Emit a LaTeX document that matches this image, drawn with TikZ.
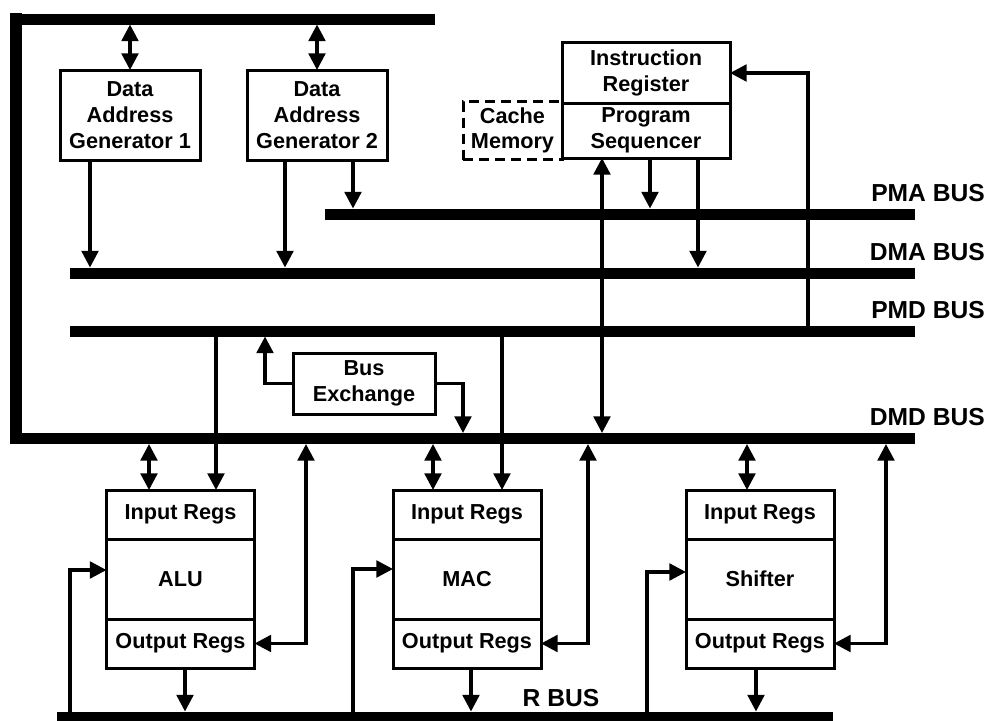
\documentclass[tikz,border=0pt]{standalone}
\usepackage{fontspec}
\setmainfont{Liberation Sans}
\usetikzlibrary{arrows.meta,positioning}

\begin{document}
\begin{tikzpicture}[
  x=0.3mm,y=-0.3mm,
  every node/.style={font=\fontsize{18.5}{22}\selectfont\bfseries,align=center},
  box/.style={draw,line width=0.9mm,inner sep=0pt,outer sep=0pt},
  reg/.style={box,minimum width=44.4mm,minimum height=14.7mm},
  bus/.style={fill=black,inner sep=0pt,outer sep=0pt,minimum height=3.3mm},
  lbl/.style={inner sep=0pt,font=\fontsize{21}{25}\selectfont\bfseries},
  arr/.style={-{Triangle[length=5mm,width=5mm]},line width=1mm},
  dbl/.style={{Triangle[length=5mm,width=5mm]}-{Triangle[length=5mm,width=5mm]},line width=1mm}
]
\useasboundingbox (0,0) rectangle (999,721);
% buses
\node[bus,minimum width=127.5mm] (dmdtop) at (222.5,19) {};
\node[bus,minimum width=3.6mm,minimum height=129.3mm] (dmdleft) at (16,228.5) {};
\node[bus,minimum width=271.5mm] (dmd) at (462.5,438.5) {};
\node[bus,minimum width=177mm] (pma) at (620,214) {};
\node[bus,minimum width=253.5mm] (dma) at (492.5,273) {};
\node[bus,minimum width=253.5mm] (pmd) at (492.5,331) {};
\node[bus,minimum width=232.8mm] (rbus) at (445,717) {};
\node[lbl,anchor=east] (lpma) at (985,193) {PMA BUS};
\node[lbl,anchor=east] (ldma) at (985,252) {DMA BUS};
\node[lbl,anchor=east] (lpmd) at (985,310) {PMD BUS};
\node[lbl,anchor=east] (ldmd) at (985,417) {DMD BUS};
\node[lbl] (lrbus) at (561,698) {R BUS};
% address generators and sequencer
\node[box,minimum width=42mm,minimum height=27mm] (dag1) at (130,115) {Data\\Address\\Generator 1};
\node[box,minimum width=42mm,minimum height=27mm] (dag2) at (317,115) {Data\\Address\\Generator 2};
\node[box,minimum width=50.4mm,minimum height=16.5mm] (ps) at (646,130.5) {Program\\Sequencer};
\node[box,minimum width=50.4mm,minimum height=18mm,above=0pt of ps] (ir) {Instruction\\Register};
\node[box,dash pattern=on 3mm off 1.8mm,minimum width=29.7mm,minimum height=17.4mm,left=0pt of ps] (cache) {Cache\\Memory};
\node[box,minimum width=42.6mm,minimum height=18.3mm] (bx) at (364,383.5) {Bus\\Exchange};
% computation units
\node[reg,minimum height=24mm] (alu) at (180.5,579) {ALU};
\node[reg,above=0pt of alu] (aluin) {Input Regs};
\node[reg,below=0pt of alu] (aluout) {Output Regs};
\node[reg,minimum height=24mm] (mac) at (467,579) {MAC};
\node[reg,above=0pt of mac] (macin) {Input Regs};
\node[reg,below=0pt of mac] (macout) {Output Regs};
\node[reg,minimum height=24mm] (shf) at (760,579) {Shifter};
\node[reg,above=0pt of shf] (shfin) {Input Regs};
\node[reg,below=0pt of shf] (shfout) {Output Regs};
% address side
\draw[dbl] (dag1.north) -- (dag1.north |- dmdtop.south);
\draw[dbl] (dag2.north) -- (dag2.north |- dmdtop.south);
\draw[arr] (90,0 |- dag1.south) -- (90,0 |- dma.north);
\draw[arr] (285,0 |- dag2.south) -- (285,0 |- dma.north);
\draw[arr] (353,0 |- dag2.south) -- (353,0 |- pma.north);
\draw[dbl] (602,0 |- dmd.north) -- (602,0 |- ps.south);
\draw[arr] (650,0 |- ps.south) -- (650,0 |- pma.north);
\draw[arr] (698,0 |- ps.south) -- (698,0 |- dma.north);
\draw[arr] (808,0 |- pmd.north) |- (ir.east);
% bus exchange
\draw[arr] (bx.west) -| (265,0 |- pmd.south);
\draw[arr] (bx.east) -| (463,0 |- dmd.north);
% data side
\draw[arr] (216,0 |- pmd.south) -- (216,0 |- aluin.north);
\draw[arr] (502,0 |- pmd.south) -- (502,0 |- macin.north);
\draw[dbl] (149,0 |- dmd.south) -- (149,0 |- aluin.north);
\draw[dbl] (433,0 |- dmd.south) -- (433,0 |- macin.north);
\draw[dbl] (747,0 |- dmd.south) -- (747,0 |- shfin.north);
\draw[dbl] (aluout.east) -| (306,0 |- dmd.south);
\draw[dbl] (macout.east) -| (588,0 |- dmd.south);
\draw[dbl] (shfout.east) -| (886,0 |- dmd.south);
\draw[arr] (70,0 |- rbus.north) |- ([yshift=2.7mm]alu.west);
\draw[arr] (353,0 |- rbus.north) |- ([yshift=3mm]mac.west);
\draw[arr] (647,0 |- rbus.north) |- ([yshift=2.1mm]shf.west);
\draw[arr] (185,0 |- aluout.south) -- (185,0 |- rbus.north);
\draw[arr] (471,0 |- macout.south) -- (471,0 |- rbus.north);
\draw[arr] (756,0 |- shfout.south) -- (756,0 |- rbus.north);
\end{tikzpicture}
\end{document}
